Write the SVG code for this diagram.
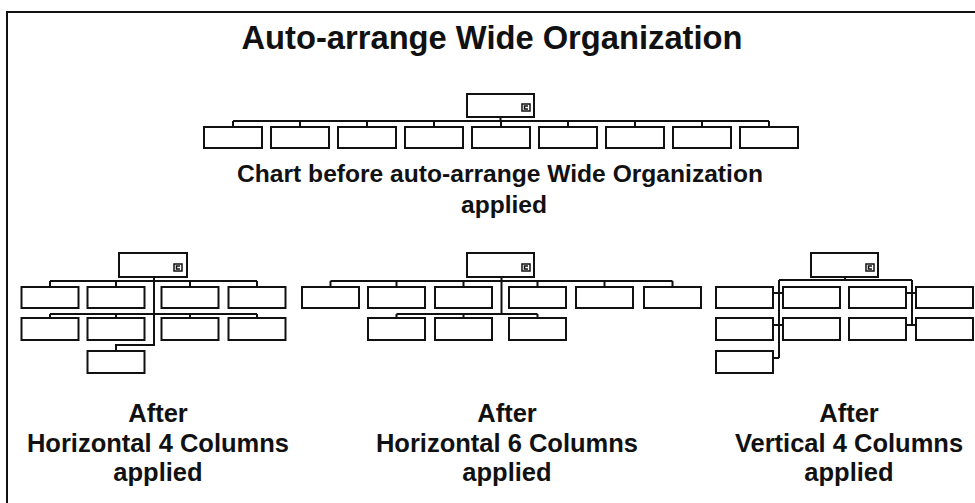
<svg xmlns="http://www.w3.org/2000/svg" width="975" height="503" viewBox="0 0 975 503">
<style>
.bx{fill:#fff;stroke:#111;stroke-width:2}
.ic{fill:none;stroke:#111;stroke-width:1.5}
.cn{fill:none;stroke:#111;stroke-width:2}
.t{font-family:"Liberation Sans",Arial,sans-serif;font-weight:bold;fill:#111;text-anchor:middle}
.lb{font-size:25.5px}
</style>
<defs>
<g id="icon"><rect class="ic" x="0" y="0" width="8" height="7"/><path class="ic" d="M6,2 H2.5 V5 H6"/></g>
</defs>
<rect width="975" height="503" fill="#fff"/>
<path d="M7,503 V12 H975" fill="none" stroke="#111" stroke-width="2"/>
<text class="t" x="492" y="49" font-size="32.7">Auto-arrange Wide Organization</text>

<g id="connectors">
<!-- top chart -->
<path class="cn" d="M500.5,117 V121 M233,121 H769 M233,121 V127 M300,121 V127 M367,121 V127 M434,121 V127 M501,121 V127 M568,121 V127 M635,121 V127 M702,121 V127 M769,121 V127"/>
<!-- H4 -->
<path class="cn" d="M154,277 V345 H116 V351 M50,281 H257 M50,281 V287 M116,281 V287 M190,281 V287 M257,281 V287 M50,314 H257 M50,314 V318 M116,314 V318 M190,314 V318 M257,314 V318"/>
<!-- H6 -->
<path class="cn" d="M501.5,277 V314 M330.5,281 H672.5 M330.5,281 V287 M396.5,281 V287 M463.5,281 V287 M537.5,281 V287 M604.5,281 V287 M672.5,281 V287 M396.5,314 H537.5 M396.5,314 V318 M463.5,314 V318 M537.5,314 V318"/>
<!-- V4 -->
<path class="cn" d="M845,277 V280 M779,280 H912 M779,280 V358 M912,280 V325 M773,293 H783 M773,325 H783 M773,358 H779 M906,293 H916 M906,325 H916"/>
</g>

<g id="top-root"><rect class="bx" x="467" y="94" width="67" height="23"/><use href="#icon" x="522" y="104"/></g>
<g id="top-c1"><rect class="bx" x="204" y="127" width="58" height="21"/></g>
<g id="top-c2"><rect class="bx" x="271" y="127" width="58" height="21"/></g>
<g id="top-c3"><rect class="bx" x="338" y="127" width="58" height="21"/></g>
<g id="top-c4"><rect class="bx" x="405" y="127" width="58" height="21"/></g>
<g id="top-c5"><rect class="bx" x="472" y="127" width="58" height="21"/></g>
<g id="top-c6"><rect class="bx" x="539" y="127" width="58" height="21"/></g>
<g id="top-c7"><rect class="bx" x="606" y="127" width="58" height="21"/></g>
<g id="top-c8"><rect class="bx" x="673" y="127" width="58" height="21"/></g>
<g id="top-c9"><rect class="bx" x="740" y="127" width="58" height="21"/></g>

<text class="t" x="500" y="182" font-size="24.6">Chart before auto-arrange Wide Organization</text>
<text class="t" x="504" y="213" font-size="24.6">applied</text>

<g id="h4-root"><rect class="bx" x="119" y="253" width="68" height="24"/><use href="#icon" x="174" y="264"/></g>
<g id="h4-c1"><rect class="bx" x="21.5" y="287" width="57" height="21"/></g>
<g id="h4-c2"><rect class="bx" x="87.5" y="287" width="57" height="21"/></g>
<g id="h4-c3"><rect class="bx" x="161.5" y="287" width="57" height="21"/></g>
<g id="h4-c4"><rect class="bx" x="228.5" y="287" width="57" height="21"/></g>
<g id="h4-c5"><rect class="bx" x="21.5" y="318" width="57" height="22"/></g>
<g id="h4-c6"><rect class="bx" x="87.5" y="318" width="57" height="22"/></g>
<g id="h4-c7"><rect class="bx" x="161.5" y="318" width="57" height="22"/></g>
<g id="h4-c8"><rect class="bx" x="228.5" y="318" width="57" height="22"/></g>
<g id="h4-c9"><rect class="bx" x="87.5" y="351" width="57" height="22"/></g>

<g id="h6-root"><rect class="bx" x="467" y="253" width="67" height="24"/><use href="#icon" x="522" y="264"/></g>
<g id="h6-c1"><rect class="bx" x="302" y="287" width="57" height="21"/></g>
<g id="h6-c2"><rect class="bx" x="368" y="287" width="57" height="21"/></g>
<g id="h6-c3"><rect class="bx" x="435" y="287" width="57" height="21"/></g>
<g id="h6-c4"><rect class="bx" x="509" y="287" width="57" height="21"/></g>
<g id="h6-c5"><rect class="bx" x="576" y="287" width="57" height="21"/></g>
<g id="h6-c6"><rect class="bx" x="644" y="287" width="57" height="21"/></g>
<g id="h6-c7"><rect class="bx" x="368" y="318" width="57" height="22"/></g>
<g id="h6-c8"><rect class="bx" x="435" y="318" width="57" height="22"/></g>
<g id="h6-c9"><rect class="bx" x="509" y="318" width="57" height="22"/></g>

<g id="v4-root"><rect class="bx" x="811" y="253" width="67" height="24"/><use href="#icon" x="866" y="264"/></g>
<g id="v4-c1"><rect class="bx" x="716" y="287" width="57" height="21"/></g>
<g id="v4-c2"><rect class="bx" x="783" y="287" width="57" height="21"/></g>
<g id="v4-c3"><rect class="bx" x="849" y="287" width="57" height="21"/></g>
<g id="v4-c4"><rect class="bx" x="916" y="287" width="57" height="21"/></g>
<g id="v4-c5"><rect class="bx" x="716" y="318" width="57" height="22"/></g>
<g id="v4-c6"><rect class="bx" x="783" y="318" width="57" height="22"/></g>
<g id="v4-c7"><rect class="bx" x="849" y="318" width="57" height="22"/></g>
<g id="v4-c8"><rect class="bx" x="916" y="318" width="57" height="22"/></g>
<g id="v4-c9"><rect class="bx" x="716" y="351" width="57" height="22"/></g>

<text class="t lb" x="158" y="422">After</text>
<text class="t lb" x="158" y="452">Horizontal 4 Columns</text>
<text class="t lb" x="158" y="481">applied</text>

<text class="t lb" x="507" y="422">After</text>
<text class="t lb" x="507" y="452">Horizontal 6 Columns</text>
<text class="t lb" x="507" y="481">applied</text>

<text class="t lb" x="849" y="422">After</text>
<text class="t lb" x="849" y="452">Vertical 4 Columns</text>
<text class="t lb" x="849" y="481">applied</text>
</svg>
